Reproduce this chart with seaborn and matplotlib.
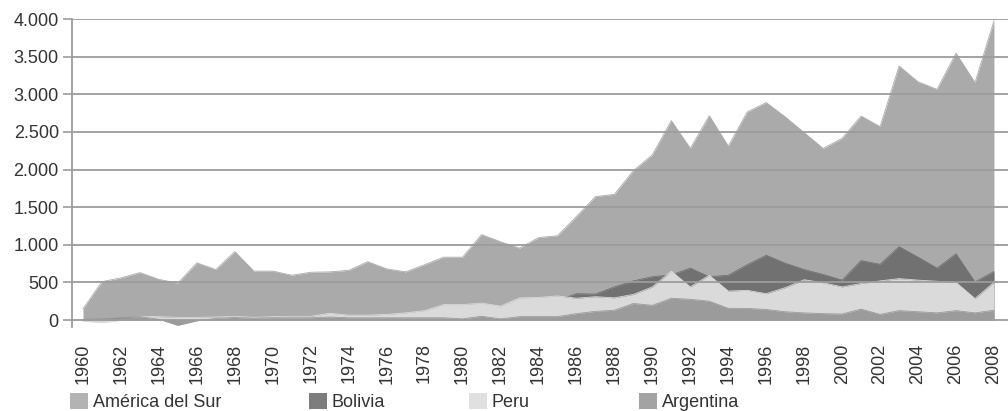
import matplotlib
matplotlib.use("Agg")
import matplotlib.pyplot as plt
from matplotlib.patches import Patch
import numpy as np
import pandas as pd
import seaborn as sns

years = list(range(1960, 2009))

america_del_sur = [150, 510, 560, 630, 540, 490, 760, 670, 910, 650,
                   650, 595, 635, 640, 660, 775, 680, 640, 735, 835,
                   835, 1135, 1040, 955, 1095, 1120, 1375, 1640, 1670, 1985,
                   2195, 2650, 2280, 2715, 2310, 2765, 2890, 2700, 2490, 2280,
                   2415, 2710, 2570, 3375, 3165, 3065, 3545, 3155, 3975]

bolivia = [5, 10, 25, 40, 30, 25, 25, 30, 40, 30,
           35, 40, 40, 60, 50, 50, 55, 70, 90, 120,
           130, 150, 150, 200, 230, 260, 350, 345, 440, 520,
           575, 600, 690, 575, 595, 735, 860, 755, 670, 605,
           530, 790, 740, 975, 835, 690, 880, 505, 645]

peru = [-15, -35, -5, 50, 45, 35, 35, 40, 50, 35,
        45, 50, 50, 90, 65, 65, 75, 95, 125, 205,
        205, 225, 185, 295, 300, 320, 290, 310, 295, 340,
        440, 650, 440, 595, 385, 395, 350, 430, 535, 495,
        440, 485, 520, 550, 530, 515, 500, 285, 500]

argentina = [10, 15, 30, 45, 10, -70, -10, 20, 35, 20,
             30, 30, 30, 40, 30, 30, 30, 30, 30, 30,
             15, 50, 15, 45, 45, 45, 85, 115, 130, 220,
             195, 290, 275, 250, 155, 155, 140, 110, 95, 85,
             80, 145, 75, 125, 110, 95, 125, 95, 130]

series_names = ["América del Sur", "Bolivia", "Peru", "Argentina"]
series_colors = ["#aaaaaa", "#717171", "#dadada", "#9b9b9b"]
legend_colors = ["#b3b3b3", "#7d7d7d", "#e0e0e0", "#a3a3a3"]

y_ticks = [0, 500, 1000, 1500, 2000, 2500, 3000, 3500, 4000]
y_tick_labels = ["0", "500", "1.000", "1.500", "2.000", "2.500", "3.000", "3.500", "4.000"]
x_ticks = list(range(1960, 2009, 2))

df = pd.DataFrame({"Año": years,
                   "América del Sur": america_del_sur,
                   "Bolivia": bolivia,
                   "Peru": peru,
                   "Argentina": argentina})
long_df = df.melt(id_vars="Año", var_name="Serie", value_name="Valor")

sns.set_theme(style="white")
plt.rcParams["font.family"] = ["Liberation Sans", "DejaVu Sans"]
text_color = "#333333"
grid_color = "#9c9c9c"

fig = plt.figure(figsize=(10.08, 4.11), dpi=100)
ax = fig.add_axes([72 / 1008, (411 - 326.8) / 411, (1008 - 72) / 1008, (326.8 - 19) / 411])

# overlapping areas, drawn back to front in series order
for z, (name, color) in enumerate(zip(series_names, series_colors)):
    sub = long_df[long_df["Serie"] == name]
    ax.fill_between(sub["Año"], 0, sub["Valor"], color=color, linewidth=0, zorder=1 + z)
    sns.lineplot(data=sub, x="Año", y="Valor", color=color, linewidth=0.6, ax=ax,
                 zorder=1 + z, legend=False, estimator=None)

ax.set_xlim(1959.42, 2008.74)
ax.set_ylim(-90, 4000)

# horizontal gridlines over the areas
for t in y_ticks:
    ax.axhline(t, color=grid_color, linewidth=1.3, zorder=10)

ax.set_yticks(y_ticks)
ax.set_yticklabels(y_tick_labels)
ax.set_xticks(x_ticks)
ax.set_xticklabels([str(x) for x in x_ticks], rotation=90, va="top")

ax.tick_params(axis="y", length=6.5, width=1.2, color=grid_color, pad=3,
               labelsize=13, labelcolor=text_color, left=True)
ax.tick_params(axis="x", length=0, pad=12, labelsize=13, labelcolor=text_color)

for side in ["top", "right", "bottom"]:
    ax.spines[side].set_visible(False)
ax.spines["left"].set_color(grid_color)
ax.spines["left"].set_linewidth(1.3)
ax.spines["left"].set_zorder(11)
ax.set_xlabel("")
ax.set_ylabel("")

# legend entries spread along the bottom
legend_x = [70 / 1008, 309 / 1008, 469 / 1008, 639 / 1008]
for name, color, lx in zip(series_names, legend_colors, legend_x):
    fig.legend(handles=[Patch(facecolor=color, edgecolor="none")], labels=[name],
               loc="center left", bbox_to_anchor=(lx, 0.022), frameon=False,
               fontsize=13, handlelength=1.0, handleheight=1.0, handletextpad=0.25,
               borderpad=0, borderaxespad=0, labelcolor=text_color)

fig.savefig("out.png", dpi=100)
